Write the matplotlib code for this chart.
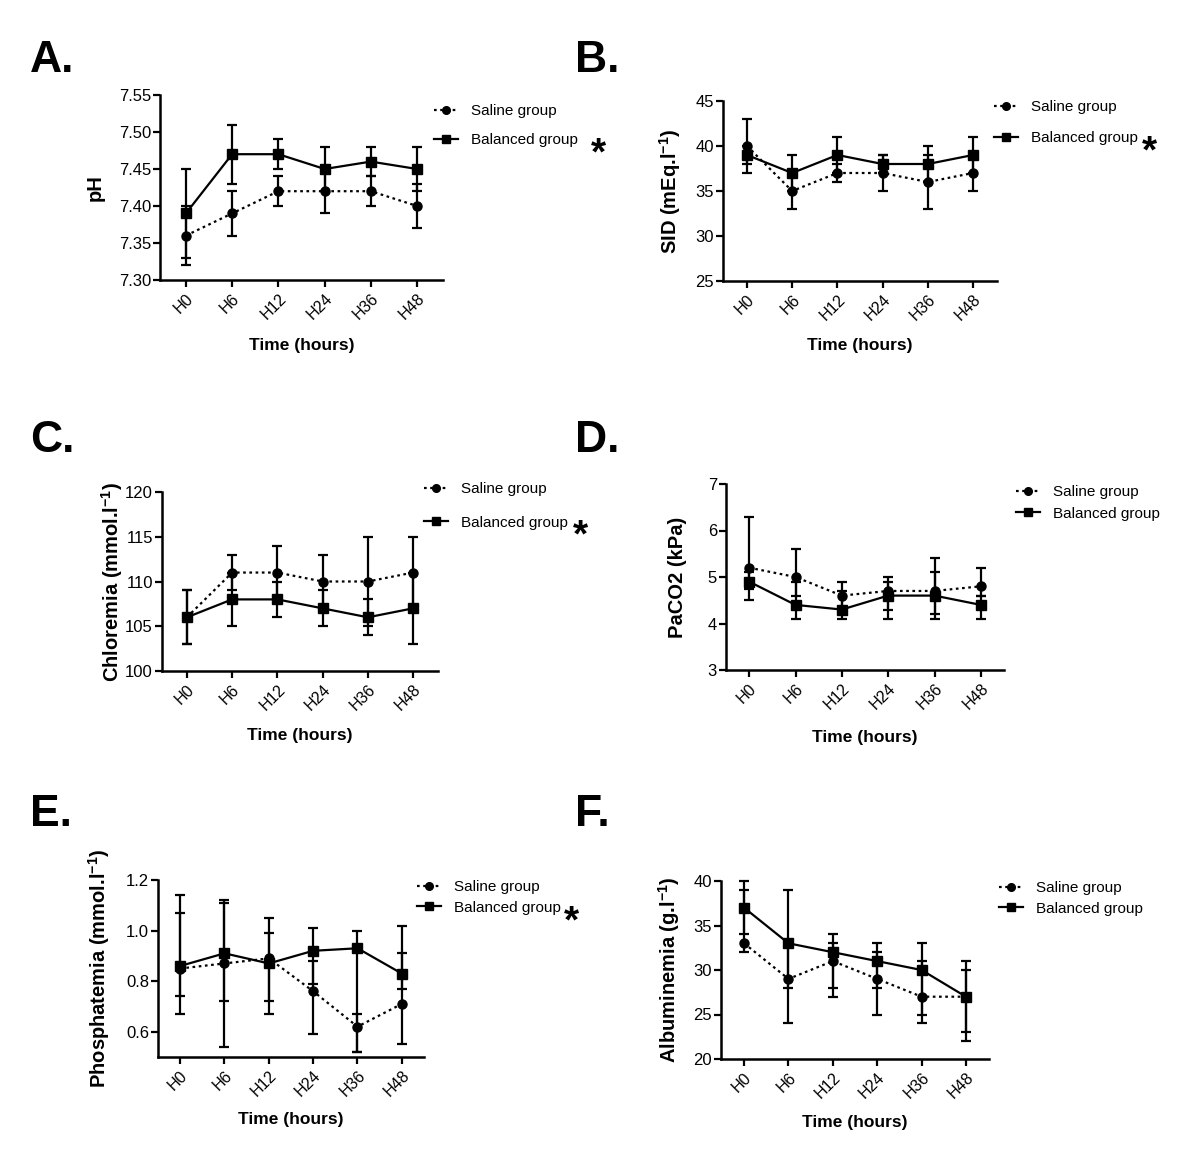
import matplotlib
matplotlib.use("Agg")
import matplotlib.pyplot as plt
from matplotlib.lines import Line2D

plt.rcParams['font.family'] = ['Liberation Sans', 'DejaVu Sans']
plt.rcParams['mathtext.fontset'] = 'custom'
plt.rcParams['mathtext.rm'] = 'Liberation Sans:bold'
plt.rcParams['mathtext.bf'] = 'Liberation Sans:bold'
plt.rcParams['mathtext.default'] = 'bf'

time_labels = ["H0", "H6", "H12", "H24", "H36", "H48"]

# A. pH
ph_saline = [7.36, 7.39, 7.42, 7.42, 7.42, 7.40]
ph_saline_lo = [7.32, 7.36, 7.40, 7.39, 7.40, 7.37]
ph_saline_hi = [7.40, 7.42, 7.44, 7.45, 7.44, 7.43]
ph_bal = [7.39, 7.47, 7.47, 7.45, 7.46, 7.45]
ph_bal_lo = [7.33, 7.43, 7.45, 7.42, 7.44, 7.42]
ph_bal_hi = [7.45, 7.51, 7.49, 7.48, 7.48, 7.48]

# B. SID
sid_saline = [40, 35, 37, 37, 36, 37]
sid_saline_lo = [37, 33, 36, 35, 33, 35]
sid_saline_hi = [43, 37, 38, 39, 39, 39]
sid_bal = [39, 37, 39, 38, 38, 39]
sid_bal_lo = [38, 35, 37, 37, 36, 37]
sid_bal_hi = [40, 39, 41, 39, 40, 41]

# C. Chloremia
cl_saline = [106, 111, 111, 110, 110, 111]
cl_saline_lo = [103, 109, 108, 107, 105, 107]
cl_saline_hi = [109, 113, 114, 113, 115, 115]
cl_bal = [106, 108, 108, 107, 106, 107]
cl_bal_lo = [103, 105, 106, 105, 104, 103]
cl_bal_hi = [109, 111, 110, 109, 108, 111]

# D. PaCO2
co2_saline = [5.2, 5.0, 4.6, 4.7, 4.7, 4.8]
co2_saline_lo = [4.75, 4.6, 4.2, 4.3, 4.2, 4.6]
co2_saline_hi = [6.3, 5.6, 4.9, 5.0, 5.4, 5.2]
co2_bal = [4.9, 4.4, 4.3, 4.6, 4.6, 4.4]
co2_bal_lo = [4.5, 4.1, 4.1, 4.1, 4.1, 4.1]
co2_bal_hi = [5.1, 4.9, 4.7, 4.9, 5.1, 4.6]

# E. Phosphatemia
p_saline = [0.85, 0.87, 0.89, 0.76, 0.62, 0.71]
p_saline_lo = [0.67, 0.54, 0.72, 0.59, 0.52, 0.55]
p_saline_hi = [1.07, 1.11, 1.05, 0.88, 0.67, 0.91]
p_bal = [0.86, 0.91, 0.87, 0.92, 0.93, 0.83]
p_bal_lo = [0.74, 0.72, 0.67, 0.79, 0.52, 0.77]
p_bal_hi = [1.14, 1.12, 0.99, 1.01, 1.00, 1.02]

# F. Albuminemia
alb_saline = [33, 29, 31, 29, 27, 27]
alb_saline_lo = [32, 24, 27, 25, 24, 22]
alb_saline_hi = [39, 33, 33, 32, 31, 30]
alb_bal = [37, 33, 32, 31, 30, 27]
alb_bal_lo = [34, 28, 28, 28, 25, 23]
alb_bal_hi = [40, 39, 34, 33, 33, 31]

W, H = 1200, 1160
fig = plt.figure(figsize=(W / 100, H / 100), dpi=100)

def px_axes(left, right, top, bottom):
    return fig.add_axes([left / W, 1 - bottom / H, (right - left) / W, (bottom - top) / H])

panels = [
    dict(letter="A.", lpos=(30, 60), box=(160, 443, 95, 280), ylim=(7.30, 7.55),
         yticks=[7.30, 7.35, 7.40, 7.45, 7.50, 7.55], yfmt="{:.2f}",
         ylabel="pH", ylab_x=105, xlab_y=338,
         s=(ph_saline, ph_saline_lo, ph_saline_hi), b=(ph_bal, ph_bal_lo, ph_bal_hi),
         leg=(440, 117, 145), star=598, xlim=(-0.56, 5.56)),
    dict(letter="B.", lpos=(575, 60), box=(723, 997, 101, 281), ylim=(25, 45),
         yticks=[25, 30, 35, 40, 45], yfmt="{:.0f}",
         ylabel=r"SID (mEq.l$^{-1}$)", ylab_x=683, xlab_y=338,
         s=(sid_saline, sid_saline_lo, sid_saline_hi), b=(sid_bal, sid_bal_lo, sid_bal_hi),
         leg=(1000, 113, 143), star=1149, xlim=(-0.53, 5.53)),
    dict(letter="C.", lpos=(30, 440), box=(162, 438, 492, 671), ylim=(100, 120),
         yticks=[100, 105, 110, 115, 120], yfmt="{:.0f}",
         ylabel=r"Chloremia (mmol.l$^{-1}$)", ylab_x=125, xlab_y=728,
         s=(cl_saline, cl_saline_lo, cl_saline_hi), b=(cl_bal, cl_bal_lo, cl_bal_hi),
         leg=(430, 495, 527), star=580, xlim=(-0.55, 5.55)),
    dict(letter="D.", lpos=(575, 440), box=(726, 1004, 484, 670), ylim=(3, 7),
         yticks=[3, 4, 5, 6, 7], yfmt="{:.0f}",
         ylabel="PaCO2 (kPa)", ylab_x=687, xlab_y=730,
         s=(co2_saline, co2_saline_lo, co2_saline_hi), b=(co2_bal, co2_bal_lo, co2_bal_hi),
         leg=(1022, 498, 519), star=None, xlim=(-0.5, 5.5)),
    dict(letter="E.", lpos=(30, 815), box=(158, 424, 880, 1057), ylim=(0.5, 1.2),
         yticks=[0.6, 0.8, 1.0, 1.2], yfmt="{:.1f}",
         ylabel=r"Phosphatemia (mmol.l$^{-1}$)", ylab_x=112, xlab_y=1112,
         s=(p_saline, p_saline_lo, p_saline_hi), b=(p_bal, p_bal_lo, p_bal_hi),
         leg=(423, 893, 913), star=571, xlim=(-0.5, 5.5)),
    dict(letter="F.", lpos=(575, 815), box=(721, 989, 881, 1059), ylim=(20, 40),
         yticks=[20, 25, 30, 35, 40], yfmt="{:.0f}",
         ylabel=r"Albuminemia (g.l$^{-1}$)", ylab_x=682, xlab_y=1115,
         s=(alb_saline, alb_saline_lo, alb_saline_hi), b=(alb_bal, alb_bal_lo, alb_bal_hi),
         leg=(1005, 894, 914), star=None, xlim=(-0.52, 5.52)),
]

x = list(range(len(time_labels)))

for p in panels:
    l, r, t, b = p["box"]
    ax = px_axes(l, r, t, b)
    sv, slo, shi = p["s"]
    bv, blo, bhi = p["b"]
    kw = dict(color="black", lw=1.6, elinewidth=1.6, capsize=3.8, capthick=1.6,
              markersize=6.5, clip_on=False, zorder=3)
    ax.errorbar(x, sv, yerr=[[v - lo for v, lo in zip(sv, slo)], [hi - v for v, hi in zip(sv, shi)]],
                fmt="o", linestyle=(0, (1.2, 1.6)), label="Saline group", **kw)
    ax.errorbar(x, bv, yerr=[[v - lo for v, lo in zip(bv, blo)], [hi - v for v, hi in zip(bv, bhi)]],
                fmt="s", linestyle="-", label="Balanced group", **kw)
    ax.set_xlim(*p["xlim"])
    ax.set_ylim(*p["ylim"])
    ax.set_yticks(p["yticks"])
    ax.set_yticklabels([p["yfmt"].format(v) for v in p["yticks"]], fontsize=12)
    ax.set_xticks(x)
    ax.set_xticklabels(time_labels, rotation=45, ha="right", rotation_mode="anchor", fontsize=11.5)
    for sp in ["top", "right"]:
        ax.spines[sp].set_visible(False)
    for sp in ["left", "bottom"]:
        ax.spines[sp].set_linewidth(1.8)
    ax.tick_params(direction="out", width=1.6, length=5, pad=1.5)
    ax.tick_params(axis="x", pad=3)
    ax.set_ylabel(p["ylabel"], fontsize=14.5, fontweight="bold")
    ax.yaxis.set_label_coords((p["ylab_x"] - l) / (r - l), 0.5)
    ax.set_xlabel("Time (hours)", fontsize=12.5, fontweight="bold")
    ax.xaxis.set_label_coords(0.5, -(p["xlab_y"] - b) / (b - t))
    # legend
    lx, y1, y2 = p["leg"]
    handles = [Line2D([], [], color="black", lw=1.6, linestyle=(0, (1.2, 1.6)), marker="o", markersize=5.5),
               Line2D([], [], color="black", lw=1.6, linestyle="-", marker="s", markersize=5.5)]
    ax.legend(handles, ["Saline group", "Balanced group"], loc="upper left",
              bbox_to_anchor=((lx - 6) / W, 1 - (y1 - 13) / H), bbox_transform=fig.transFigure,
              frameon=False, fontsize=11, handlelength=1.6, handletextpad=0.8,
              labelspacing=(y2 - y1 - 14) / 14.0, borderaxespad=0, borderpad=0)
    if p["star"] is not None:
        fig.text(p["star"] / W, 1 - (y2 + 9) / H, "*", fontsize=28, fontweight="bold",
                 ha="center", va="center")
    fig.text(p["lpos"][0] / W, 1 - p["lpos"][1] / H, p["letter"], fontsize=32,
             fontweight="bold", ha="left", va="center")

fig.savefig("out.png", dpi=100)
